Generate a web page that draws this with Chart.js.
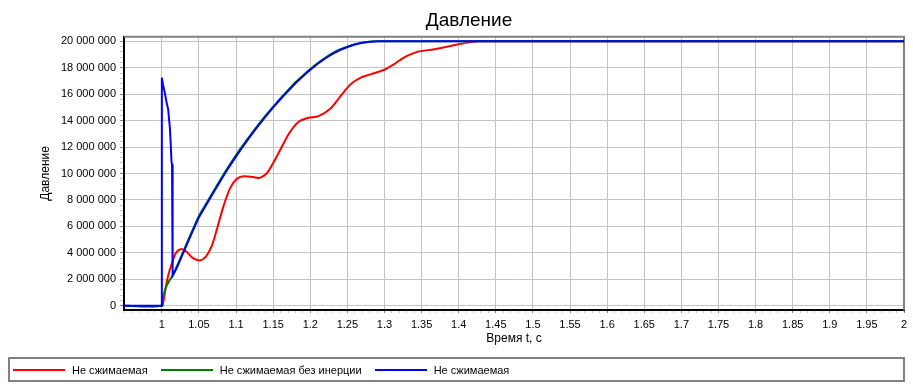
<!DOCTYPE html>
<html>
<head>
<meta charset="utf-8">
<script src="https://cdn.jsdelivr.net/npm/chart.js@4"></script>
<style>
  body { margin: 0; background: #fff; }
  #wrap { position: relative; width: 913px; height: 390px; }
  #legend {
    position: absolute; left: 8px; top: 357px; width: 893px; height: 21px;
    border: 2px solid #808080; display: flex; align-items: center;
    font: 11px "Liberation Sans", Arial, sans-serif; color: #000;
  }
  .item { display: flex; align-items: center; margin-left: 13px; }
  .item:first-child { margin-left: 3px; }
  .swatch { width: 52px; height: 2px; margin-right: 7px; }
</style>
</head>
<body>
<div id="wrap">
  <canvas id="chart" width="913" height="390"></canvas>
  <div id="legend"></div>
</div>
<script>
// Давление, значения (Па)
const seriesNames = ['Не сжимаемая', 'Не сжимаемая без инерции', 'Не сжимаемая'];
const seriesColors = ['#ff0000', '#008000', '#0000ff'];

// Не сжимаемая (красная)
const tRed = [0.949, 1.0, 1.002, 1.0063, 1.0095, 1.013, 1.019, 1.0266, 1.033, 1.042, 1.051, 1.059, 1.067,
  1.074, 1.083, 1.092, 1.101, 1.11, 1.123, 1.132, 1.141, 1.15, 1.161, 1.172, 1.184, 1.197, 1.211,
  1.227, 1.24, 1.254, 1.268, 1.281, 1.299, 1.3125, 1.326, 1.344, 1.367, 1.389, 1.412, 1.428, 2.0];
const pRed = [0, 0, 0.3, 1.7, 2.5, 3.1, 4.0, 4.3, 4.1, 3.6, 3.43, 3.7, 4.5,
  5.76, 7.52, 8.9, 9.6, 9.8, 9.73, 9.67, 10.0, 10.8, 11.95, 13.08, 13.9, 14.2, 14.34,
  14.9, 15.8, 16.74, 17.25, 17.5, 17.83, 18.26, 18.77, 19.2, 19.4, 19.65, 19.9, 20.0, 20.0];

// Не сжимаемая без инерции (зелёная)
const tGreen = [0.949, 1.0, 1.0015, 1.006, 1.0108, 1.0153, 1.02, 1.03, 1.04, 1.05, 1.06, 1.07, 1.08, 1.09,
  1.1, 1.11, 1.12, 1.13, 1.14, 1.15, 1.16, 1.17, 1.18, 1.19, 1.2, 1.21, 1.22, 1.23, 1.24,
  1.25, 1.26, 1.27, 1.28, 1.29, 2.0];
const pGreen = [0, 0, 0.6, 1.46, 1.96, 2.34, 2.95, 4.25, 5.55, 6.8, 7.75, 8.7, 9.65, 10.55,
  11.4, 12.2, 12.95, 13.7, 14.4, 15.05, 15.7, 16.3, 16.9, 17.4, 17.9, 18.35, 18.75, 19.1, 19.38,
  19.6, 19.78, 19.9, 19.97, 20.0, 20.0];

// Не сжимаемая (синяя)
const tBlue = [0.949, 1.0, 1.0, 1.0015, 1.004, 1.0063, 1.0085, 1.0108, 1.012, 1.013, 1.0137, 1.0145,
  1.02, 1.03, 1.04, 1.05, 1.06, 1.07, 1.08, 1.09, 1.1, 1.11, 1.12, 1.13, 1.14, 1.15, 1.16,
  1.17, 1.18, 1.19, 1.2, 1.21, 1.22, 1.23, 1.24, 1.25, 1.26, 1.27, 1.28, 1.292, 2.0];
const pBlue = [0, 0, 17.25, 16.74, 16.1, 15.4, 14.85, 13.46, 12.2, 10.9, 10.7, 2.3,
  2.85, 4.15, 5.45, 6.7, 7.65, 8.6, 9.55, 10.45, 11.3, 12.1, 12.88, 13.62, 14.33, 15.0, 15.63,
  16.24, 16.83, 17.35, 17.85, 18.3, 18.7, 19.05, 19.34, 19.57, 19.76, 19.89, 19.96, 20.0, 20.0];

// оси
const xMin = 0.949, xMax = 2.0;
const yMin = -320000, yMax = 20340000;
const xLabelEvery = 5;      // подписи каждые 0.05
const yMinorStep = 400000, yLabelStep = 2000000;

const pairs = (ts, ps) => ts.map((t, i) => ({ x: t, y: ps[i] * 1e6 }));

const fmtThousands = v => String(Math.round(v)).replace(/\B(?=(\d{3})+(?!\d))/g, ' ');
const isMajorX = v => Math.round(v * 100) % xLabelEvery === 0 && v >= 0.999;
const isMajorY = v => Math.round(v) % yLabelStep === 0;

Chart.defaults.font.family = '"Liberation Sans", Arial, sans-serif';
Chart.defaults.font.size = 11;
Chart.defaults.color = '#000';

// рамка сверху и справа
const frame = {
  id: 'frame',
  beforeDatasetsDraw(chart) {
    const { ctx, chartArea: a } = chart;
    ctx.save();
    ctx.strokeStyle = '#808080';
    ctx.lineWidth = 2;
    ctx.beginPath();
    ctx.moveTo(a.left, a.top);
    ctx.lineTo(a.right, a.top);
    ctx.lineTo(a.right, a.bottom);
    ctx.stroke();
    ctx.restore();
  }
};

const datasets = [
  { data: pairs(tRed, pRed), borderColor: seriesColors[0], tension: 0.3, order: 3 },
  { data: pairs(tGreen, pGreen), borderColor: seriesColors[1], tension: 0.3, order: 2 },
  { data: pairs(tBlue, pBlue), borderColor: seriesColors[2], tension: 0, order: 1 }
].map((d, i) => Object.assign({ label: seriesNames[i], borderWidth: 2, pointRadius: 0, fill: false }, d));

new Chart(document.getElementById('chart'), {
  type: 'line',
  data: { datasets },
  plugins: [frame],
  options: {
    responsive: false,
    animation: false,
    devicePixelRatio: 1,
    layout: { padding: { left: 34, right: 9, top: 0, bottom: 40 } },
    plugins: {
      legend: { display: false },
      tooltip: { enabled: false },
      title: {
        display: true, text: 'Давление',
        font: { size: 19, weight: 'normal' }, color: '#000',
        padding: { top: 9, bottom: 5 }
      }
    },
    scales: {
      x: {
        type: 'linear', min: xMin, max: xMax,
        afterBuildTicks: axis => {
          const ticks = [];
          for (let i = 95; i <= 200; i++) ticks.push({ value: i / 100 });
          axis.ticks = ticks;
        },
        afterFit: s => { s.height = 40; },
        ticks: {
          autoSkip: false, maxRotation: 0, padding: 5,
          callback: v => isMajorX(v) ? String(parseFloat(v.toFixed(2))) : ''
        },
        grid: {
          color: c => isMajorX(c.tick.value) ? '#c4c4c4' : 'rgba(0,0,0,0)',
          tickColor: c => isMajorX(c.tick.value) ? '#808080' : '#c8c8c8',
          tickLength: 3
        },
        border: { color: '#000', width: 2 },
        title: { display: true, text: 'Время t, с', font: { size: 12 }, color: '#000' }
      },
      y: {
        min: yMin, max: yMax,
        afterBuildTicks: axis => {
          const ticks = [];
          for (let v = 0; v <= 20000000; v += yMinorStep) ticks.push({ value: v });
          axis.ticks = ticks;
        },
        afterFit: s => { s.width = 90; },
        ticks: {
          autoSkip: false, padding: 4,
          callback: v => isMajorY(v) ? fmtThousands(v) : ''
        },
        grid: {
          color: c => isMajorY(c.tick.value) ? '#c4c4c4' : 'rgba(0,0,0,0)',
          tickColor: c => isMajorY(c.tick.value) ? '#808080' : '#c8c8c8',
          tickLength: 4
        },
        border: { color: '#000', width: 2 },
        title: { display: true, text: 'Давление', font: { size: 12 }, color: '#000' }
      }
    }
  }
});

// легенда
const legend = document.getElementById('legend');
seriesNames.forEach((name, i) => {
  const item = document.createElement('div');
  item.className = 'item';
  item.innerHTML = `<span class="swatch" style="background:${seriesColors[i]}"></span><span>${name}</span>`;
  legend.appendChild(item);
});
</script>
</body>
</html>
